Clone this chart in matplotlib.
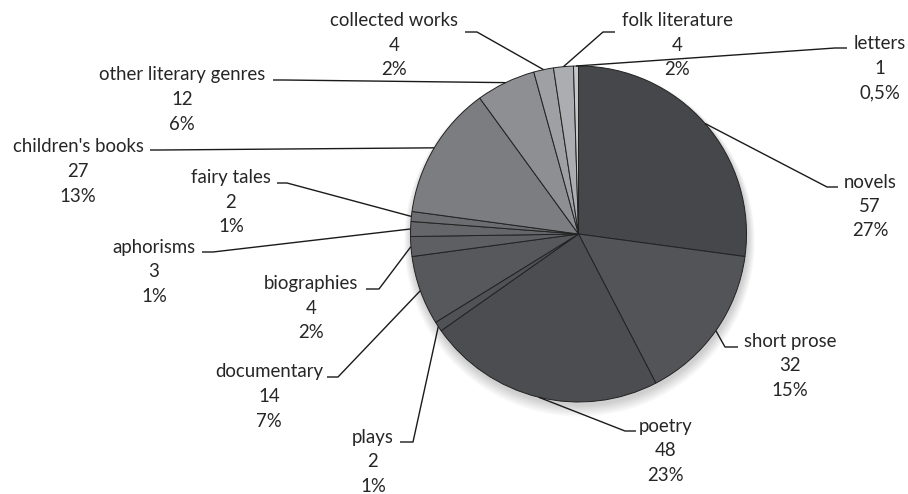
import numpy as np
import matplotlib
matplotlib.use("Agg")
import matplotlib.pyplot as plt
from matplotlib.patches import Circle

W, H = 908, 494

# data
genres = ["novels", "short prose", "poetry", "plays", "documentary", "biographies",
          "aphorisms", "fairy tales", "children's books", "other literary genres",
          "collected works", "folk literature", "letters"]
counts = [57, 32, 48, 2, 14, 4, 3, 2, 27, 12, 4, 4, 1]
shares = ["27%", "15%", "23%", "1%", "7%", "2%", "1%", "1%", "13%", "6%", "2%", "2%", "0,5%"]

colors = ["#46474b", "#535458", "#4c4d51", "#515256", "#57585c", "#5e5f63",
          "#656669", "#6c6d70", "#7c7d80", "#8e8f92", "#9fa0a3", "#acadb0", "#c6c7c9"]

# label layout in pixel coords: text centre x, first line y, elbow, end of leader
layout = {
    "novels":                (870, 182, (827, 187), (838, 187)),
    "short prose":           (790, 341, (725, 347), (738, 347)),
    "poetry":                (666, 426, (625, 431), (636, 431)),
    "plays":                 (373, 437, (413, 442), (400, 442)),
    "documentary":           (269, 372, (338, 377), (327, 377)),
    "biographies":           (311, 284, (379, 289), (366, 289)),
    "aphorisms":             (154, 247, (213, 252), (202, 252)),
    "fairy tales":           (231, 178, (287, 183), (277, 183)),
    "children's books":      (78, 147, (160, 150), (150, 150)),
    "other literary genres": (182, 75, (284, 80), (273, 80)),
    "collected works":       (394, 21, (477, 32), (465, 32)),
    "folk literature":       (677, 21, (603, 32), (615, 32)),
    "letters":               (880, 44, (835, 48), (847, 48)),
}

cx, cy, R = 578.5, 234, 168
dy = 24.5

def fy(py):
    return H - py

fig = plt.figure(figsize=(W / 100, H / 100), dpi=100)
ax = fig.add_axes([0, 0, 1, 1])

# soft shadow under the pie
for k in range(8):
    ax.add_patch(Circle((cx + 1, fy(cy) - 3 - k * 0.6), R + 1 + k * 0.9,
                        color="black", alpha=0.025, lw=0, zorder=0))

wedges, _ = ax.pie(counts, colors=colors, startangle=90, counterclock=False,
                   center=(cx, fy(cy)), radius=R,
                   wedgeprops=dict(edgecolor="#222222", linewidth=0.7))
for w in wedges:
    w.set_zorder(2)

font = dict(family=["Lato", "DejaVu Sans"], fontsize=13.4, color="#262626")

for w, g, c, s in zip(wedges, genres, counts, shares):
    tx, ty, elbow, end = layout[g]
    a = np.deg2rad(0.5 * (w.theta1 + w.theta2))
    x0 = w.center[0] + w.r * np.cos(a)
    y0 = w.center[1] + w.r * np.sin(a)
    ax.plot([x0, elbow[0], end[0]], [y0, fy(elbow[1]), fy(end[1])],
            color="#1a1a1a", lw=1.0, zorder=3, solid_capstyle="butt")
    for i, line in enumerate([g, str(c), s]):
        ax.text(tx, fy(ty + i * dy), line, ha="center", va="center", **font)

ax.set_xlim(0, W)
ax.set_ylim(0, H)
ax.set_aspect("auto")
ax.axis("off")
fig.savefig("out.png", dpi=100, facecolor="white")
